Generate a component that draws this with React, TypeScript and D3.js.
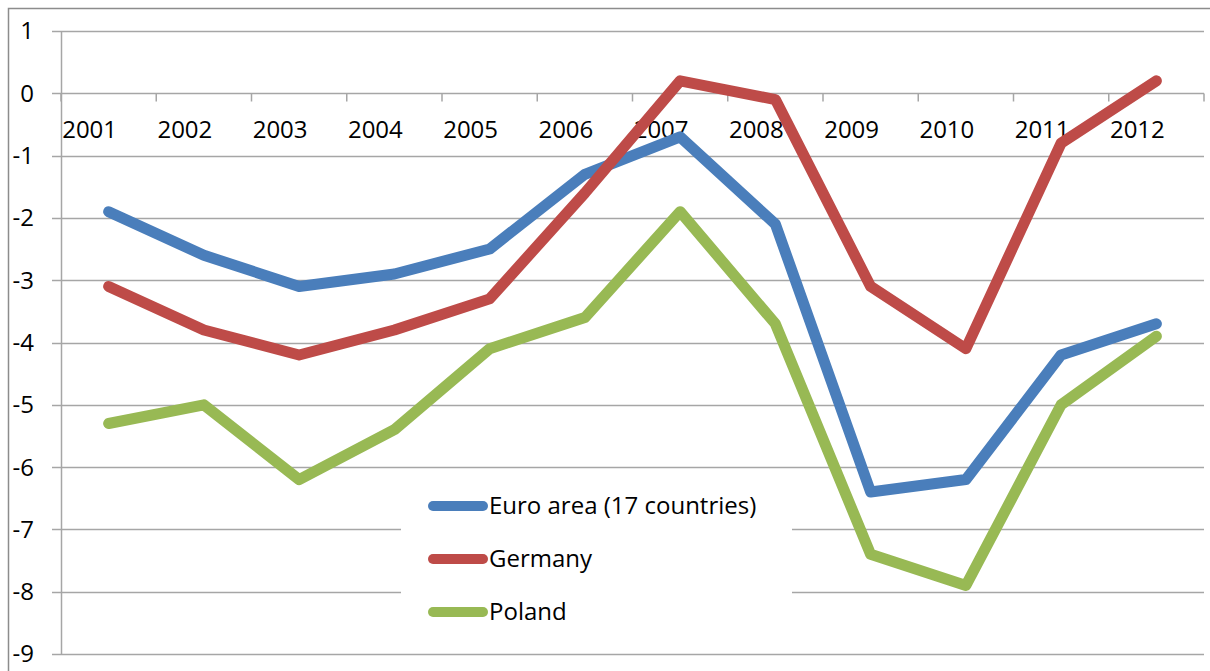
import * as React from "react";
import { useEffect, useRef } from "react";
import { scaleBand, scaleLinear, line, select } from "d3";

const years = ["2001", "2002", "2003", "2004", "2005", "2006", "2007", "2008", "2009", "2010", "2011", "2012"];
const euroArea = [-1.9, -2.6, -3.1, -2.9, -2.5, -1.3, -0.7, -2.1, -6.4, -6.2, -4.2, -3.7];
const germany = [-3.1, -3.8, -4.2, -3.8, -3.3, -1.6, 0.2, -0.1, -3.1, -4.1, -0.8, 0.2];
const poland = [-5.3, -5.0, -6.2, -5.4, -4.1, -3.6, -1.9, -3.7, -7.4, -7.9, -5.0, -3.9];
const yTicks = [1, 0, -1, -2, -3, -4, -5, -6, -7, -8, -9];

const series = [
  { name: "Euro area (17 countries)", values: euroArea, color: "#4A7EBB" },
  { name: "Germany", values: germany, color: "#BE4B48" },
  { name: "Poland", values: poland, color: "#98B954" },
];

const W = 1210;
const H = 671;
const FONT = "'Open Sans', 'Liberation Sans', sans-serif";
const FS = 24;

export default function App() {
  const ref = useRef<SVGSVGElement>(null);

  const left = 61;
  const right = 1204;
  const top = 31;
  const bottom = 654;

  const x = scaleBand().domain(years).range([left, right]);
  const y = scaleLinear().domain([-9, 1]).range([bottom, top]);

  useEffect(() => {
    if (!ref.current) return;
    const svg = select(ref.current);
    svg.selectAll("*").remove();

    // chart border (top & left)
    svg.append("path")
      .attr("d", `M8.5,${H} V8.5 H${W}`)
      .attr("fill", "none")
      .attr("stroke", "#8c8c8c")
      .attr("stroke-width", 1.5);

    // gridlines
    svg.append("g")
      .selectAll("line")
      .data(yTicks)
      .join("line")
      .attr("x1", left - 9)
      .attr("x2", right)
      .attr("y1", (d) => Math.round(y(d)) + 0.5)
      .attr("y2", (d) => Math.round(y(d)) + 0.5)
      .attr("stroke", "#a6a6a6")
      .attr("stroke-width", 1.5);

    // y axis line
    svg.append("line")
      .attr("x1", left + 0.5)
      .attr("x2", left + 0.5)
      .attr("y1", top)
      .attr("y2", bottom)
      .attr("stroke", "#a6a6a6")
      .attr("stroke-width", 1.5);

    // y labels
    svg.append("g")
      .selectAll("text")
      .data(yTicks)
      .join("text")
      .attr("x", 34)
      .attr("y", (d) => y(d))
      .attr("dy", "0.35em")
      .attr("text-anchor", "end")
      .attr("font-family", FONT)
      .attr("font-size", FS)
      .attr("fill", "#000")
      .text((d) => String(d));

    // category ticks on the zero line
    const y0 = Math.round(y(0)) + 0.5;
    const tickXs = years.map((yr) => (x(yr) as number) + x.bandwidth()).concat([left]);
    svg.append("g")
      .selectAll("line")
      .data(tickXs)
      .join("line")
      .attr("x1", (d) => d)
      .attr("x2", (d) => d)
      .attr("y1", y0)
      .attr("y2", y0 + 8)
      .attr("stroke", "#a6a6a6")
      .attr("stroke-width", 1.5);

    // category labels
    svg.append("g")
      .selectAll("text")
      .data(years)
      .join("text")
      .attr("x", (d) => (x(d) as number) + x.bandwidth() / 2 - 19)
      .attr("y", y0 + 44)
      .attr("text-anchor", "middle")
      .attr("font-family", FONT)
      .attr("font-size", FS)
      .attr("fill", "#000")
      .text((d) => d);

    // series lines
    const gen = line<number>()
      .x((_, i) => (x(years[i]) as number) + x.bandwidth() / 2)
      .y((d) => y(d));
    svg.append("g")
      .selectAll("path")
      .data(series)
      .join("path")
      .attr("d", (s) => gen(s.values))
      .attr("fill", "none")
      .attr("stroke", (s) => s.color)
      .attr("stroke-width", 11)
      .attr("stroke-linejoin", "round")
      .attr("stroke-linecap", "round");

    // legend
    const lg = svg.append("g");
    lg.append("rect")
      .attr("x", 401)
      .attr("y", 472)
      .attr("width", 391)
      .attr("height", 176)
      .attr("fill", "#fff");
    const items = lg.selectAll("g.item")
      .data(series)
      .join("g")
      .attr("class", "item")
      .attr("transform", (_, i) => `translate(0, ${506 + i * 53})`);
    items.append("line")
      .attr("x1", 433)
      .attr("x2", 483)
      .attr("y1", 0)
      .attr("y2", 0)
      .attr("stroke", (s) => s.color)
      .attr("stroke-width", 10)
      .attr("stroke-linecap", "round");
    items.append("text")
      .attr("x", 489)
      .attr("y", 0)
      .attr("dy", "0.35em")
      .attr("font-family", FONT)
      .attr("font-size", FS)
      .attr("fill", "#000")
      .text((s) => s.name);
  }, []);

  return (
    <svg
      ref={ref}
      width={W}
      height={H}
      style={{ position: "absolute", left: 0, top: 0, background: "#fff" }}
    />
  );
}
